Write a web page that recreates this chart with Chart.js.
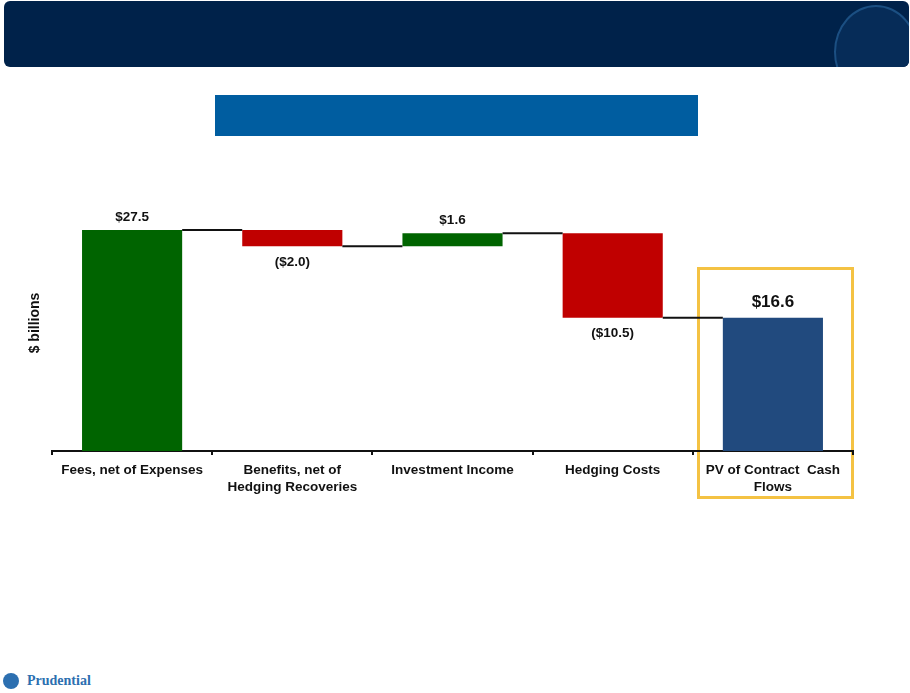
<!DOCTYPE html>
<html>
<head>
<meta charset="utf-8">
<script src="https://cdn.jsdelivr.net/npm/chart.js@4"></script>
<style>
  body { margin: 0; width: 910px; height: 693px; background: #fff; overflow: hidden; position: relative; font-family: "Liberation Sans", Arial, sans-serif; }
  .header { position: absolute; left: 4px; top: 1px; width: 905px; height: 66px; background: #00224a; border-radius: 6px; overflow: hidden; }
  .header .rock { position: absolute; left: 830px; top: 4px; width: 80px; height: 90px; border: 2px solid #1b4f82; border-radius: 50%; background: #062c58; }
  .subtitle { position: absolute; left: 215px; top: 95px; width: 483px; height: 41px; background: #005da0; }
  .goldbox { position: absolute; left: 697px; top: 267px; width: 151px; height: 226px; border: 3px solid #f4c243; }
  .logo { position: absolute; left: 3px; top: 673px; display: flex; align-items: center; }
  .logo .mark { width: 16px; height: 16px; border-radius: 50%; background: #2c6fb0; margin-right: 8px; }
  .logo span { font-family: "Liberation Serif", "DejaVu Serif", serif; font-weight: bold; font-size: 14px; color: #2c6fb0; }
  #chart { position: absolute; left: 0; top: 0; }
</style>
</head>
<body>
<div class="header"><div class="rock"></div></div>
<div class="subtitle"></div>
<div class="goldbox"></div>
<div class="logo"><div class="mark"></div><span>Prudential</span></div>
<canvas id="chart" width="910" height="693"></canvas>
<script>
// Waterfall data ($ billions)
const categories = [
    ['Fees, net of Expenses'],
    ['Benefits, net of', 'Hedging Recoveries'],
    ['Investment Income'],
    ['Hedging Costs'],
    ['PV of Contract  Cash', 'Flows']
];
const steps = [27.5, -2.0, 1.6, -10.5];
const total = 16.6;
const stepColors = { up: '#006400', down: '#c00000', total: '#214a7e' };

// build floating bars from the steps
const bars = [];
const colors = [];
let level = 0;
steps.forEach(function(v) {
    bars.push([level, level + v]);
    colors.push(v >= 0 ? stepColors.up : stepColors.down);
    level += v;
});
bars.push([0, total]);
colors.push(stepColors.total);

function fmt(v) {
    return v < 0 ? '($' + Math.abs(v).toFixed(1) + ')' : '$' + v.toFixed(1);
}

const FONT = '"Liberation Sans", Arial, sans-serif';

// connectors, value labels and axis title
const waterfallExtras = {
    id: 'waterfallExtras',
    afterDatasetsDraw(chart) {
        const ctx = chart.ctx;
        const meta = chart.getDatasetMeta(0);
        const y = chart.scales.y;
        ctx.save();
        // connectors
        ctx.strokeStyle = '#111';
        ctx.lineWidth = 2;
        for (let i = 0; i < bars.length - 1; i++) {
            const a = meta.data[i], b = meta.data[i + 1];
            const yy = y.getPixelForValue(bars[i][1]);
            ctx.beginPath();
            ctx.moveTo(a.x + a.width / 2, yy);
            ctx.lineTo(b.x - b.width / 2, yy);
            ctx.stroke();
        }
        // value labels
        ctx.fillStyle = '#111';
        ctx.textAlign = 'center';
        ctx.textBaseline = 'middle';
        const values = steps.concat([total]);
        values.forEach(function(v, i) {
            const el = meta.data[i];
            const isTotal = i === values.length - 1;
            ctx.font = 'bold ' + (isTotal ? 17 : 13.5) + 'px ' + FONT;
            if (v >= 0) {
                const top = y.getPixelForValue(Math.max(bars[i][0], bars[i][1]));
                ctx.fillText(fmt(v), el.x, top - (isTotal ? 15 : 13));
            } else {
                const bottom = y.getPixelForValue(Math.min(bars[i][0], bars[i][1]));
                ctx.fillText(fmt(v), el.x, bottom + 16);
            }
        });
        // y axis title
        ctx.font = 'bold 14px ' + FONT;
        ctx.translate(35, 323);
        ctx.rotate(-Math.PI / 2);
        ctx.fillText('$ billions', 0, 0);
        ctx.restore();
    }
};

const ctx = document.getElementById('chart').getContext('2d');
const myChart = new Chart(ctx, {
    type: 'bar',
    data: {
        labels: categories,
        datasets: [{
            data: bars,
            backgroundColor: colors,
            borderWidth: 0,
            barPercentage: 0.625,
            categoryPercentage: 1.0
        }]
    },
    options: {
        responsive: false,
        animation: false,
        layout: { padding: { left: 52, right: 57, top: 210, bottom: 182 } },
        plugins: { legend: { display: false }, tooltip: { enabled: false } },
        scales: {
            x: {
                afterFit(scale) { scale.height = 60; },
                grid: { display: true, drawOnChartArea: false, drawTicks: true, tickLength: 4, color: '#111', lineWidth: 2, offset: true },
                border: { display: true, color: '#111', width: 2 },
                ticks: {
                    color: '#111',
                    padding: 7,
                    maxRotation: 0,
                    autoSkip: false,
                    font: { size: 13.5, weight: 'bold', family: FONT, lineHeight: 1.25 }
                }
            },
            y: {
                display: false,
                min: 0,
                max: 30
            }
        }
    },
    plugins: [waterfallExtras]
});
</script>
</body>
</html>
